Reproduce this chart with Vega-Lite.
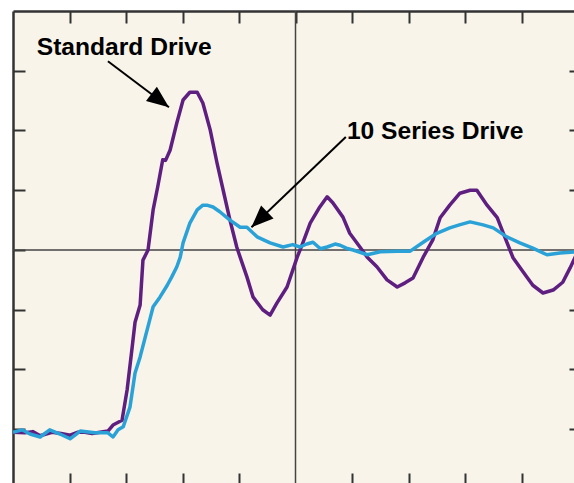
{
  "$schema": "https://vega.github.io/schema/vega-lite/v6.json",
  "autosize": {"type": "none"},
  "padding": {"left": 13, "top": 11, "right": 0, "bottom": 0},
  "width": 561,
  "height": 472,
  "background": "#ffffff",
  "config": {
    "view": {"fill": "#f8f4e9", "stroke": null},
    "axis": {"grid": false, "labels": false, "title": null, "domainColor": "#333333", "domainWidth": 2.5, "tickColor": "#333333", "tickWidth": 2}
  },
  "datasets": {
    "curves": [
      {"s": "Standard", "t": 0, "v": -3.05}, {"s": "Standard", "t": 0.21, "v": -3.06}, {"s": "Standard", "t": 0.35, "v": -3.04}, {"s": "Standard", "t": 0.48, "v": -3.11}, {"s": "Standard", "t": 0.69, "v": -3.05}, {"s": "Standard", "t": 0.85, "v": -3.07}, {"s": "Standard", "t": 1.01, "v": -3.1}, {"s": "Standard", "t": 1.15, "v": -3.05}, {"s": "Standard", "t": 1.27, "v": -3.05}, {"s": "Standard", "t": 1.4, "v": -3.07}, {"s": "Standard", "t": 1.54, "v": -3.05}, {"s": "Standard", "t": 1.68, "v": -3.03}, {"s": "Standard", "t": 1.77, "v": -2.93}, {"s": "Standard", "t": 1.93, "v": -2.85}, {"s": "Standard", "t": 2.02, "v": -2.34}, {"s": "Standard", "t": 2.11, "v": -1.62}, {"s": "Standard", "t": 2.16, "v": -1.21}, {"s": "Standard", "t": 2.25, "v": -0.92}, {"s": "Standard", "t": 2.3, "v": -0.17}, {"s": "Standard", "t": 2.39, "v": 0}, {"s": "Standard", "t": 2.48, "v": 0.67}, {"s": "Standard", "t": 2.56, "v": 1.05}, {"s": "Standard", "t": 2.65, "v": 1.51}, {"s": "Standard", "t": 2.7, "v": 1.5}, {"s": "Standard", "t": 2.78, "v": 1.67}, {"s": "Standard", "t": 2.9, "v": 2.13}, {"s": "Standard", "t": 3.01, "v": 2.51}, {"s": "Standard", "t": 3.13, "v": 2.64}, {"s": "Standard", "t": 3.26, "v": 2.64}, {"s": "Standard", "t": 3.36, "v": 2.46}, {"s": "Standard", "t": 3.49, "v": 2.01}, {"s": "Standard", "t": 3.61, "v": 1.46}, {"s": "Standard", "t": 3.72, "v": 1.0}, {"s": "Standard", "t": 3.84, "v": 0.5}, {"s": "Standard", "t": 3.96, "v": 0.05}, {"s": "Standard", "t": 4.02, "v": -0.12}, {"s": "Standard", "t": 4.14, "v": -0.45}, {"s": "Standard", "t": 4.25, "v": -0.79}, {"s": "Standard", "t": 4.42, "v": -1.0}, {"s": "Standard", "t": 4.55, "v": -1.09}, {"s": "Standard", "t": 4.67, "v": -0.89}, {"s": "Standard", "t": 4.85, "v": -0.62}, {"s": "Standard", "t": 5.03, "v": -0.12}, {"s": "Standard", "t": 5.13, "v": 0.12}, {"s": "Standard", "t": 5.26, "v": 0.45}, {"s": "Standard", "t": 5.43, "v": 0.72}, {"s": "Standard", "t": 5.56, "v": 0.89}, {"s": "Standard", "t": 5.66, "v": 0.79}, {"s": "Standard", "t": 5.84, "v": 0.55}, {"s": "Standard", "t": 5.96, "v": 0.28}, {"s": "Standard", "t": 6.14, "v": 0.05}, {"s": "Standard", "t": 6.27, "v": -0.12}, {"s": "Standard", "t": 6.44, "v": -0.28}, {"s": "Standard", "t": 6.62, "v": -0.5}, {"s": "Standard", "t": 6.8, "v": -0.62}, {"s": "Standard", "t": 6.94, "v": -0.55}, {"s": "Standard", "t": 7.08, "v": -0.47}, {"s": "Standard", "t": 7.26, "v": -0.12}, {"s": "Standard", "t": 7.43, "v": 0.17}, {"s": "Standard", "t": 7.56, "v": 0.54}, {"s": "Standard", "t": 7.73, "v": 0.75}, {"s": "Standard", "t": 7.91, "v": 0.95}, {"s": "Standard", "t": 8.09, "v": 1.0}, {"s": "Standard", "t": 8.21, "v": 1.0}, {"s": "Standard", "t": 8.39, "v": 0.75}, {"s": "Standard", "t": 8.57, "v": 0.54}, {"s": "Standard", "t": 8.74, "v": 0.13}, {"s": "Standard", "t": 8.85, "v": -0.13}, {"s": "Standard", "t": 9.03, "v": -0.37}, {"s": "Standard", "t": 9.2, "v": -0.59}, {"s": "Standard", "t": 9.38, "v": -0.72}, {"s": "Standard", "t": 9.56, "v": -0.67}, {"s": "Standard", "t": 9.73, "v": -0.54}, {"s": "Standard", "t": 9.86, "v": -0.3}, {"s": "Standard", "t": 9.96, "v": -0.1},
      {"s": "Series", "t": 0, "v": -3.05}, {"s": "Series", "t": 0.16, "v": -3.01}, {"s": "Series", "t": 0.3, "v": -3.08}, {"s": "Series", "t": 0.48, "v": -3.13}, {"s": "Series", "t": 0.65, "v": -3.01}, {"s": "Series", "t": 0.83, "v": -3.08}, {"s": "Series", "t": 1.01, "v": -3.16}, {"s": "Series", "t": 1.19, "v": -3.03}, {"s": "Series", "t": 1.45, "v": -3.06}, {"s": "Series", "t": 1.68, "v": -3.06}, {"s": "Series", "t": 1.77, "v": -3.13}, {"s": "Series", "t": 1.86, "v": -3.01}, {"s": "Series", "t": 1.95, "v": -2.96}, {"s": "Series", "t": 2.07, "v": -2.63}, {"s": "Series", "t": 2.16, "v": -2.06}, {"s": "Series", "t": 2.25, "v": -1.79}, {"s": "Series", "t": 2.34, "v": -1.46}, {"s": "Series", "t": 2.42, "v": -1.17}, {"s": "Series", "t": 2.48, "v": -0.95}, {"s": "Series", "t": 2.6, "v": -0.79}, {"s": "Series", "t": 2.73, "v": -0.59}, {"s": "Series", "t": 2.81, "v": -0.45}, {"s": "Series", "t": 2.9, "v": -0.28}, {"s": "Series", "t": 2.96, "v": -0.12}, {"s": "Series", "t": 3.01, "v": 0.12}, {"s": "Series", "t": 3.13, "v": 0.45}, {"s": "Series", "t": 3.26, "v": 0.67}, {"s": "Series", "t": 3.36, "v": 0.75}, {"s": "Series", "t": 3.43, "v": 0.75}, {"s": "Series", "t": 3.54, "v": 0.72}, {"s": "Series", "t": 3.66, "v": 0.64}, {"s": "Series", "t": 3.84, "v": 0.5}, {"s": "Series", "t": 4.02, "v": 0.38}, {"s": "Series", "t": 4.14, "v": 0.38}, {"s": "Series", "t": 4.32, "v": 0.22}, {"s": "Series", "t": 4.55, "v": 0.12}, {"s": "Series", "t": 4.78, "v": 0.05}, {"s": "Series", "t": 4.95, "v": 0.09}, {"s": "Series", "t": 5.08, "v": 0.05}, {"s": "Series", "t": 5.2, "v": 0.1}, {"s": "Series", "t": 5.31, "v": 0.13}, {"s": "Series", "t": 5.44, "v": 0.02}, {"s": "Series", "t": 5.56, "v": 0.05}, {"s": "Series", "t": 5.7, "v": 0.1}, {"s": "Series", "t": 5.79, "v": 0.08}, {"s": "Series", "t": 5.9, "v": 0.03}, {"s": "Series", "t": 6.02, "v": 0}, {"s": "Series", "t": 6.27, "v": -0.08}, {"s": "Series", "t": 6.5, "v": -0.03}, {"s": "Series", "t": 6.8, "v": -0.02}, {"s": "Series", "t": 7.03, "v": -0.02}, {"s": "Series", "t": 7.26, "v": 0.13}, {"s": "Series", "t": 7.5, "v": 0.28}, {"s": "Series", "t": 7.73, "v": 0.37}, {"s": "Series", "t": 7.9, "v": 0.42}, {"s": "Series", "t": 8.09, "v": 0.47}, {"s": "Series", "t": 8.32, "v": 0.42}, {"s": "Series", "t": 8.5, "v": 0.37}, {"s": "Series", "t": 8.74, "v": 0.22}, {"s": "Series", "t": 8.97, "v": 0.12}, {"s": "Series", "t": 9.2, "v": 0.03}, {"s": "Series", "t": 9.45, "v": -0.08}, {"s": "Series", "t": 9.68, "v": -0.05}, {"s": "Series", "t": 9.96, "v": -0.03}
    ],
    "labels": [
      {"t": 0.42, "v": 3.26, "label": "Standard Drive"},
      {"t": 5.91, "v": 1.86, "label": "10 Series Drive"}
    ],
    "arrows": [
      {"t": 1.68, "v": 3.16, "t2": 2.76, "v2": 2.39, "ang": 127.2},
      {"t": 5.89, "v": 1.89, "t2": 4.22, "v2": 0.38, "ang": 226.2}
    ]
  },
  "resolve": {"axis": {"x": "independent", "y": "independent"}},
  "layer": [
    {
      "data": {"values": [{"v": 0}]},
      "mark": {"type": "rule", "color": "#444444", "strokeWidth": 1.5},
      "encoding": {
        "y": {"field": "v", "type": "quantitative", "scale": {"domain": [-3.9, 4.0], "nice": false, "zero": false},
              "axis": {"orient": "right", "values": [-3, -2, -1, 1, 2, 3], "tickSize": -5, "domain": false}}
      }
    },
    {
      "data": {"values": [{"t": 5}]},
      "mark": {"type": "rule", "color": "#444444", "strokeWidth": 1.5},
      "encoding": {
        "x": {"field": "t", "type": "quantitative", "scale": {"domain": [0, 9.929], "nice": false, "zero": false},
              "axis": {"orient": "bottom", "values": [1, 2, 3, 4, 6, 7, 8, 9], "tickSize": -10, "domain": false}}
      }
    },
    {
      "data": {"name": "curves"},
      "transform": [{"filter": "datum.s === 'Standard'"}],
      "mark": {"type": "line", "color": "#5e1f80", "strokeWidth": 3.5, "strokeJoin": "round", "clip": true},
      "encoding": {
        "x": {"field": "t", "type": "quantitative", "scale": {"domain": [0, 9.929], "nice": false, "zero": false},
              "axis": {"orient": "top", "values": [1, 2, 3, 4, 5, 6, 7, 8, 9], "tickSize": -12}},
        "y": {"field": "v", "type": "quantitative", "scale": {"domain": [-3.9, 4.0], "nice": false, "zero": false},
              "axis": {"orient": "left", "values": [-3, -2, -1, 0, 1, 2, 3], "tickSize": -12}}
      }
    },
    {
      "data": {"name": "curves"},
      "transform": [{"filter": "datum.s === 'Series'"}],
      "mark": {"type": "line", "color": "#2aa2d8", "strokeWidth": 3.5, "strokeJoin": "round", "clip": true},
      "encoding": {
        "x": {"field": "t", "type": "quantitative", "scale": {"domain": [0, 9.929], "nice": false, "zero": false}, "axis": null},
        "y": {"field": "v", "type": "quantitative", "scale": {"domain": [-3.9, 4.0], "nice": false, "zero": false}, "axis": null}
      }
    },
    {
      "data": {"name": "arrows"},
      "mark": {"type": "rule", "color": "#000000", "strokeWidth": 2},
      "encoding": {
        "x": {"field": "t", "type": "quantitative", "scale": {"domain": [0, 9.929], "nice": false, "zero": false}, "axis": null},
        "y": {"field": "v", "type": "quantitative", "scale": {"domain": [-3.9, 4.0], "nice": false, "zero": false}, "axis": null},
        "x2": {"field": "t2"},
        "y2": {"field": "v2"}
      }
    },
    {
      "data": {"name": "arrows"},
      "mark": {"type": "point", "shape": "M0,0 L0.9,2.2 L-0.9,2.2 Z", "filled": true, "color": "#000000", "opacity": 1, "size": 400},
      "encoding": {
        "x": {"field": "t2", "type": "quantitative", "scale": {"domain": [0, 9.929], "nice": false, "zero": false}, "axis": null},
        "y": {"field": "v2", "type": "quantitative", "scale": {"domain": [-3.9, 4.0], "nice": false, "zero": false}, "axis": null},
        "angle": {"field": "ang", "type": "quantitative", "scale": null}
      }
    },
    {
      "data": {"name": "labels"},
      "mark": {"type": "text", "align": "left", "baseline": "alphabetic", "font": "Liberation Sans", "fontWeight": "bold", "fontSize": 24.6, "color": "#000000"},
      "encoding": {
        "x": {"field": "t", "type": "quantitative", "scale": {"domain": [0, 9.929], "nice": false, "zero": false}, "axis": null},
        "y": {"field": "v", "type": "quantitative", "scale": {"domain": [-3.9, 4.0], "nice": false, "zero": false}, "axis": null},
        "text": {"field": "label"}
      }
    }
  ]
}
